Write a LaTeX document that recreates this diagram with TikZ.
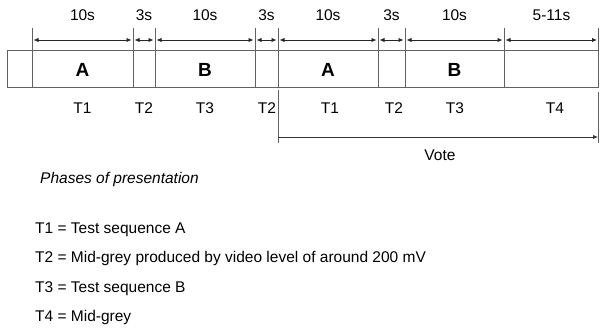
\documentclass[tikz,border=0pt]{standalone}
\usepackage{fontspec}
\setmainfont{Liberation Sans}
\usetikzlibrary{arrows.meta}
\begin{document}
\begin{tikzpicture}[x=1pt,y=-1pt,
  frame/.style={draw=black!62, line width=1pt},
  dur/.style={{Latex[length=5pt,width=4.5pt]}-{Latex[length=5pt,width=4.5pt]}, draw=black!85, line width=0.9pt, shorten >=1.5pt, shorten <=1.5pt},
  vote/.style={-{Latex[length=5pt,width=4.5pt]}, draw=black!80, line width=0.9pt, shorten >=0.5pt},
  lbl/.style={font=\fontsize{15.5}{18}\selectfont, inner sep=0pt},
  big/.style={font=\fontsize{19}{22}\selectfont\bfseries, inner sep=0pt},
  leg/.style={font=\fontsize{15.5}{18}\selectfont, anchor=base west, inner sep=0pt}]
\useasboundingbox (0,0) rectangle (600,327);
% divider coordinates
\foreach \i/\x in {1/32,2/133,3/155,4/255,5/278,6/378,7/405,8/504,9/598.5}{
  \coordinate (t\i) at (\x,28);
  \coordinate (b\i) at (\x,87);
  \coordinate (a\i) at (\x,40);
}
\coordinate (boxL) at (7,50);
\coordinate (boxR) at (598.5,87);
% box
\draw[frame] (boxL) rectangle (boxR);
\foreach \i in {1,...,9}{ \draw[frame] (t\i) -- (b\i); }
% duration arrows
\foreach \i/\j in {1/2,2/3,3/4,4/5,5/6,6/7,7/8,8/9}{ \draw[dur] (a\i) -- (a\j); }
% duration labels
\node[lbl] (d1) at (82.5,15.5) {10s};
\node[lbl] (d2) at (144,15.5) {3s};
\node[lbl] (d3) at (205,15.5) {10s};
\node[lbl] (d4) at (266.5,15.5) {3s};
\node[lbl] (d5) at (328,15.5) {10s};
\node[lbl] (d6) at (391.5,15.5) {3s};
\node[lbl] (d7) at (454.5,15.5) {10s};
\node[lbl] (d8) at (551.5,15.5) {5-11s};
% sequence letters
\node[big] (s1) at (82.5,70) {A};
\node[big] (s3) at (205,70) {B};
\node[big] (s5) at (328,70) {A};
\node[big] (s7) at (454.5,70) {B};
% phase labels
\node[lbl] (p1) at (82.5,108) {T1};
\node[lbl] (p2) at (144,108) {T2};
\node[lbl] (p3) at (205,108) {T3};
\node[lbl] (p4) at (267,108) {T2};
\node[lbl] (p5) at (330,108) {T1};
\node[lbl] (p6) at (394,108) {T2};
\node[lbl] (p7) at (455,108) {T3};
\node[lbl] (p8) at (555,108) {T4};
% vote
\coordinate (vt1) at (278,90);
\coordinate (vb1) at (278,143);
\coordinate (vt2) at (598.5,92);
\coordinate (vb2) at (598.5,143);
\coordinate (va1) at (278,137);
\coordinate (va2) at (598.5,137);
\draw[frame] (vt1) -- (vb1);
\draw[frame] (vt2) -- (vb2);
\draw[vote] (va1) -- (va2);
\node[lbl] (vote) at (440,155.5) {Vote};
% legend
\node[leg, font=\fontsize{15.5}{18}\selectfont\itshape] (phases) at (40,183) {Phases of presentation};
\node[leg] (l1) at (35,233) {T1 = Test sequence A};
\node[leg] (l2) at (35,262.5) {T2 = Mid-grey produced by video level of around 200 mV};
\node[leg] (l3) at (35,292) {T3 = Test sequence B};
\node[leg] (l4) at (35,321.5) {T4 = Mid-grey};
\end{tikzpicture}
\end{document}
